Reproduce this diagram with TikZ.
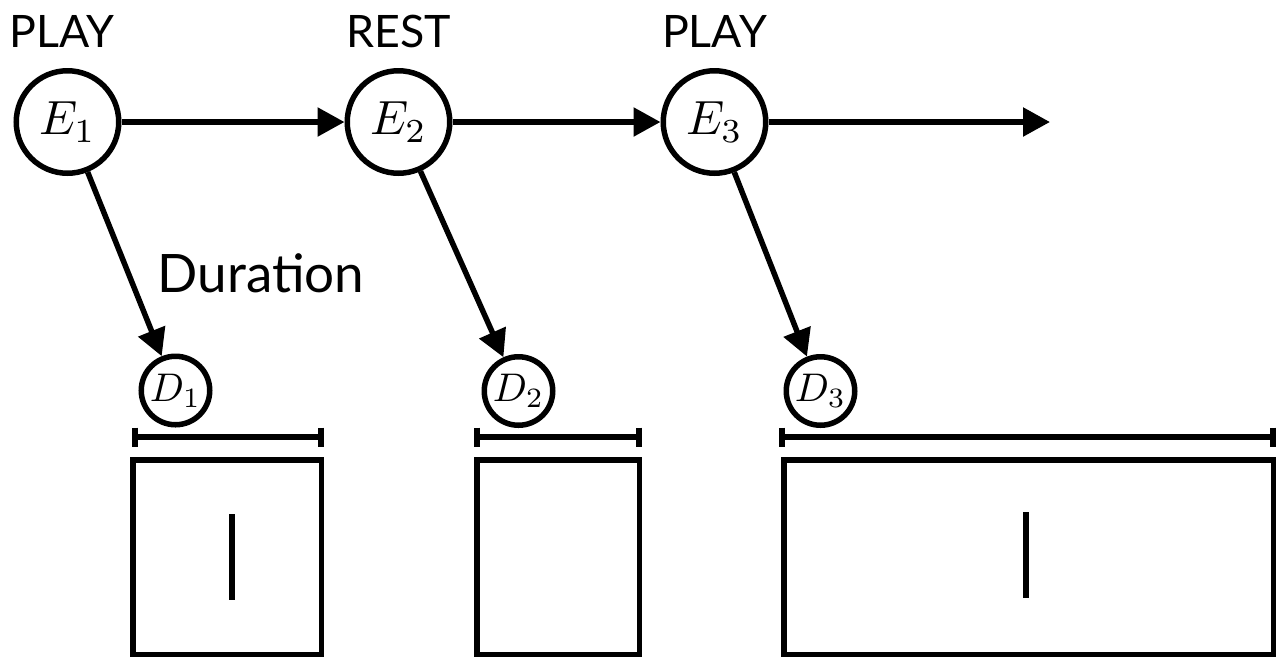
\documentclass[tikz,border=0pt]{standalone}
\usepackage[no-math]{fontspec}
\setmainfont{Lato}
\usetikzlibrary{arrows.meta}
\newcommand{\bigmath}[2]{\scalebox{#1}{$#2$}}
\begin{document}
\begin{tikzpicture}[x=1pt,y=-1pt,
  ev/.style={circle,draw,line width=5.5pt,minimum size=102.5pt,inner sep=0pt},
  dv/.style={circle,draw,line width=5.5pt,minimum size=68.5pt,inner sep=0pt},
  lab/.style={font=\fontsize{44.7}{48}\selectfont,anchor=base,inner sep=0pt},
  conn/.style={line width=5.5pt,-{Triangle[length=27pt,width=28pt]}},
  barline/.style={line width=5.5pt},
  boxline/.style={line width=5.5pt},
]
\useasboundingbox (0,0) rectangle (1283,657);
% event nodes
\node[ev] (e1) at (67.5,122) {\bigmath{4.8}{E_1}};
\node[ev] (e2) at (398.5,122) {\bigmath{4.8}{E_2}};
\node[ev] (e3) at (714.5,122) {\bigmath{4.8}{E_3}};
\coordinate (eend) at (1050,122);
% duration nodes
\node[dv] (d1) at (175.5,390.5) {\bigmath{4.0}{D_1}};
\node[dv] (d2) at (518.5,391) {\bigmath{4.0}{D_2}};
\node[dv] (d3) at (820.5,391) {\bigmath{4.0}{D_3}};
% labels
\node[lab] (l1) at (62,47) {PLAY};
\node[lab] (l2) at (398.5,47) {REST};
\node[lab] (l3) at (714.5,47) {PLAY};
\node[font=\fontsize{53}{58}\selectfont,anchor=base,inner sep=0pt] (dur) at (261,292) {Duration};
% connectors
\draw[conn] (e1) -- (e2);
\draw[conn] (e2) -- (e3);
\draw[conn] (e3) -- (eend);
\draw[conn] (e1) -- (d1);
\draw[conn] (e2) -- (d2);
\draw[conn] (e3) -- (d3);
% duration bars
\draw[barline] (135,437) -- (321,437) (135,427.5) -- (135,447) (321,427.5) -- (321,447);
\draw[barline] (477,437) -- (639,437) (477,427.5) -- (477,447) (639,427.5) -- (639,447);
\draw[barline] (782,437) -- (1273,437) (782,427.5) -- (782,447) (1273,427.5) -- (1273,447);
% boxes
\draw[boxline] (132.75,459.75) rectangle (321.25,654.25);
\draw[boxline] (476.75,459.75) rectangle (639.25,654.25);
\draw[boxline] (783.75,459.75) rectangle (1273.25,654.25);
% cursor lines
\draw[boxline] (232,514) -- (232,600);
\draw[boxline] (1026,512) -- (1026,598);
\end{tikzpicture}
\end{document}
